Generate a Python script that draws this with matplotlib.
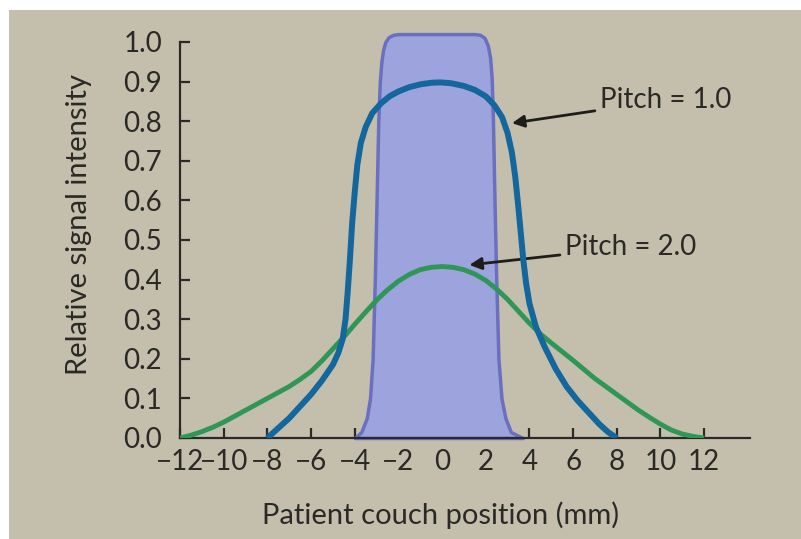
import matplotlib
matplotlib.use("Agg")
import matplotlib.pyplot as plt
from matplotlib.patches import Rectangle

plt.rcParams['font.family'] = ['Lato', 'DejaVu Sans']

# curva do perfil de corte (area roxa)
slice_x = [-4.0, -3.7, -3.45, -3.3, -3.18, -3.08, -3.0, -2.92, -2.85, -2.78, -2.7, -2.6, -2.45, -2.25, -2.0,
           1.5, 1.75, 1.95, 2.1, 2.2, 2.27, 2.33, 2.4, 2.48, 2.58, 2.72, 2.9, 3.15, 3.7]
slice_y = [0, 0.015, 0.05, 0.1, 0.2, 0.4, 0.6, 0.8, 0.9, 0.95, 0.98, 1.0, 1.012, 1.018, 1.02,
           1.02, 1.018, 1.01, 0.99, 0.96, 0.91, 0.8, 0.6, 0.4, 0.2, 0.1, 0.05, 0.015, 0]

# pitch = 1.0
p1_x = [-8, -7.5, -7, -6.5, -6, -5.5, -5, -4.75, -4.55, -4.42, -4.32, -4.22, -4.12, -4.0, -3.88, -3.72,
        -3.5, -3.2, -2.8, -2.4, -2, -1.5, -1, -0.5, -0.1, 0.4, 1, 1.5, 2, 2.4, 2.75, 3.0, 3.2,
        3.35, 3.48, 3.6, 3.72, 3.85, 4.0, 4.3, 4.7, 5.2, 5.7, 6.2, 6.7, 7.2, 7.6, 8]
p1_y = [0, 0.025, 0.05, 0.08, 0.11, 0.145, 0.185, 0.215, 0.25, 0.3, 0.37, 0.45, 0.54, 0.62, 0.69, 0.745,
        0.785, 0.82, 0.845, 0.863, 0.875, 0.886, 0.893, 0.897, 0.898, 0.896, 0.889, 0.879, 0.863, 0.84, 0.81, 0.77, 0.72,
        0.66, 0.59, 0.52, 0.45, 0.39, 0.34, 0.28, 0.23, 0.175, 0.13, 0.095, 0.065, 0.035, 0.015, 0]

# pitch = 2.0
p2_x = [-12, -11.5, -11, -10.5, -10, -9.5, -9, -8.5, -8, -7.5, -7, -6.5, -6, -5.5, -5, -4.5, -4, -3.5,
        -3, -2.5, -2, -1.5, -1, -0.5, 0, 0.5, 1, 1.5, 2, 2.5, 3, 3.5, 4, 4.5, 5, 5.5, 6, 6.5, 7, 7.5,
        8, 8.5, 9, 9.5, 10, 10.5, 11, 11.5, 12]
p2_y = [0, 0.007, 0.016, 0.027, 0.04, 0.055, 0.07, 0.085, 0.1, 0.115, 0.13, 0.148, 0.168, 0.195, 0.225,
        0.255, 0.287, 0.318, 0.348, 0.374, 0.396, 0.413, 0.425, 0.431, 0.433, 0.431, 0.425, 0.414, 0.398,
        0.376, 0.35, 0.32, 0.29, 0.263, 0.24, 0.218, 0.196, 0.173, 0.15, 0.13, 0.11, 0.09, 0.07, 0.052,
        0.035, 0.02, 0.01, 0.004, 0]

xticks = [-12, -10, -8, -6, -4, -2, 0, 2, 4, 6, 8, 10, 12]
yticks = [0.0, 0.1, 0.2, 0.3, 0.4, 0.5, 0.6, 0.7, 0.8, 0.9, 1.0]

bg = '#c4bfac'
ink = '#2a2925'
fig = plt.figure(figsize=(8.01, 5.39), dpi=100, facecolor='white')
fig.patches.append(Rectangle((9 / 801, 0), 1, 1 - 10 / 539, transform=fig.transFigure,
                             facecolor=bg, edgecolor='none', zorder=-10))
ax = fig.add_axes([180 / 801, 1 - 438 / 539, 570 / 801, 396 / 539])
ax.set_facecolor('none')

ax.fill_between(slice_x, slice_y, 0, facecolor='#9da3dc', edgecolor='#6a6fc0',
                linewidth=2.5, clip_on=False, zorder=2)
ax.plot(p2_x, p2_y, color='#2f9658', lw=3.5, zorder=3, solid_capstyle='butt')
ax.plot(p1_x, p1_y, color='#13679d', lw=4.3, zorder=4, solid_capstyle='butt')

ax.set_xlim(-12, 14.1)
ax.set_ylim(0, 1.0)
ax.set_xticks(xticks)
ax.set_xticklabels([str(t).replace('-', '\u2212') for t in xticks])
ax.set_yticks(yticks)
ax.set_yticklabels([f'{t:.1f}' for t in yticks])
for s in ['top', 'right']:
    ax.spines[s].set_visible(False)
for s in ['left', 'bottom']:
    ax.spines[s].set_color(ink)
    ax.spines[s].set_linewidth(1.6)
ax.tick_params(axis='both', direction='in', length=7, width=1.6, color=ink,
               labelsize=20, labelcolor=ink)
ax.tick_params(axis='y', pad=13)
ax.tick_params(axis='x', pad=8)

ax.set_xlabel('Patient couch position (mm)', fontsize=21, color=ink)
ax.xaxis.set_label_coords(0.458, -0.16)
ax.set_ylabel('Relative signal intensity', fontsize=21, color=ink)
ax.yaxis.set_label_coords(-0.155, 0.54)

ax.annotate('Pitch = 1.0', xy=(3.2, 0.795), xytext=(7.25, 0.853), fontsize=20, color=ink,
            va='center', ha='left',
            arrowprops=dict(arrowstyle='-|>', color='#1e1d1a', lw=2, mutation_scale=18,
                            shrinkA=2, shrinkB=0))
ax.annotate('Pitch = 2.0', xy=(1.25, 0.437), xytext=(5.65, 0.482), fontsize=20, color=ink,
            va='center', ha='left',
            arrowprops=dict(arrowstyle='-|>', color='#1e1d1a', lw=2, mutation_scale=18,
                            shrinkA=2, shrinkB=0))

plt.savefig('out.png', dpi=100, facecolor=fig.get_facecolor())
